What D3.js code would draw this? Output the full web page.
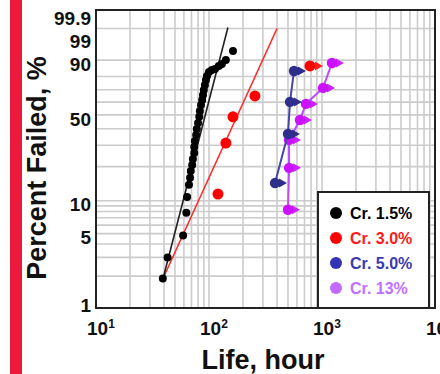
<!DOCTYPE html>
<html>
<head>
<meta charset="utf-8">
<script src="https://cdn.jsdelivr.net/npm/d3@7/dist/d3.min.js"></script>
<style>
  body { margin: 0; background: #fff; }
  svg { display: block; font-family: "Liberation Sans", Arial, sans-serif; font-weight: bold; }
  .grid line { stroke: #cccccc; stroke-width: 1.6; }
</style>
</head>
<body>
<div id="chart"></div>
<script>
// life (hours) and percent failed
const cr15 = [
  [39, 1.9], [43, 3.0], [59, 4.8], [63, 7.8], [64, 10.8], [66.5, 13.9], [68, 16],
  [69, 18.3], [71, 20.6], [72, 23.2], [74, 26], [74, 29], [75, 32.4], [77, 36],
  [78, 39.9], [80, 44], [82, 48.5], [83, 53], [85, 57.8], [87, 61.8], [88.5, 65.8],
  [90, 69.8], [92, 73.7], [94, 77.5], [96, 80.4], [100, 83.1], [106, 84.4],
  [113, 85], [122, 86.8], [130, 88], [141, 90.1], [163, 94]
];
const cr15Fit = [[39.2, 1.9], [147, 99.1]];
const cr30 = [[120, 11.5], [141, 31.2], [163, 48.5], [255, 65], [783, 86.8]];
const cr30Fit = [[39.2, 1.9], [400, 99]];
const cr30Suspended = [[783, 86.8]];
const cr50 = [[384, 14.4], [500, 36.6], [521, 60.2], [565, 83.7]];
const cr13 = [[500, 8.3], [511, 19.5], [511, 33], [638, 46.2], [721, 58.6], [1021, 71.4], [1225, 88.5]];

const lifeTicks = [10, 100, 1000, 10000];
const pctTicks = [99.9, 99, 90, 50, 10, 5, 1];
const pctGrid = [1, 2, 3, 4, 5, 6, 7, 8, 9, 10, 20, 30, 40, 50, 60, 70, 80, 90, 99];
const legendLabels = ["Cr. 1.5%", "Cr. 3.0%", "Cr. 5.0%", "Cr. 13%"];
const legendColors = ["#000000", "#ff0000", "#3434b8", "#c46bff"];
const legendText = ["#000000", "#ff1a1a", "#3a3ab4", "#c070ff"];

const width = 440, height = 374;
const margin = { top: 10, right: 5, bottom: 66, left: 96 };
const plotR = width - margin.right, plotB = height - margin.bottom;

const weibull = (p) => Math.log(-Math.log(1 - p / 100));

const x = d3.scaleLog().domain([10, 10000]).range([margin.left, plotR]);
const yW = d3.scaleLinear().domain([weibull(1), weibull(99.9)]).range([plotB, margin.top]);
const y = (p) => yW(weibull(p));

const svg = d3.select("#chart").append("svg")
  .attr("width", width).attr("height", height);

svg.append("rect").attr("x", 10).attr("y", 0).attr("width", 12).attr("height", height)
  .attr("fill", "#ec1a3c");

const grid = svg.append("g").attr("class", "grid");
grid.selectAll(".gx").data(x.ticks()).join("line")
  .attr("x1", (d) => x(d)).attr("x2", (d) => x(d))
  .attr("y1", margin.top).attr("y2", plotB);
grid.selectAll(".gy").data(pctGrid).join("line")
  .attr("x1", margin.left).attr("x2", plotR)
  .attr("y1", (d) => y(d)).attr("y2", (d) => y(d));

const line = d3.line().x((d) => x(d[0])).y((d) => y(d[1]));

svg.append("path").datum(cr30Fit).attr("d", line)
  .attr("fill", "none").attr("stroke", "#ff2a2a").attr("stroke-width", 1.6);
svg.append("path").datum(cr15Fit).attr("d", line)
  .attr("fill", "none").attr("stroke", "#222").attr("stroke-width", 1.6);

function arrows(data, color, gap) {
  const g = svg.append("g").attr("fill", color).attr("stroke", color);
  g.selectAll("line").data(data).join("line")
    .attr("x1", (d) => x(d[0])).attr("x2", (d) => x(d[0]) + gap)
    .attr("y1", (d) => y(d[1])).attr("y2", (d) => y(d[1]))
    .attr("stroke-width", 1.5);
  g.selectAll("path").data(data).join("path")
    .attr("stroke", "none")
    .attr("d", (d) => {
      const cx = x(d[0]) + gap, cy = y(d[1]);
      return `M${cx},${cy - 4.5}L${cx + 8},${cy}L${cx},${cy + 4.5}Z`;
    });
}

function series(data, color, r, lineColor) {
  if (lineColor) {
    svg.append("path").datum(data).attr("d", line)
      .attr("fill", "none").attr("stroke", lineColor).attr("stroke-width", 2);
  }
  svg.append("g").selectAll("circle").data(data).join("circle")
    .attr("cx", (d) => x(d[0])).attr("cy", (d) => y(d[1]))
    .attr("r", r).attr("fill", color);
}

// purple under blue, as in the picture
arrows(cr13, "#cc22ff", 4);
series(cr13, "#cc11ff", 5.2, "#b94cff");
arrows(cr50, "#2e2e8c", 4);
series(cr50, "#2e2e8c", 5.2, "#4646a6");
arrows(cr30Suspended, "#ff2020", 5);
series(cr30, "#ff0000", 5.5);
series(cr15, "#000000", 4);

// frame
svg.append("rect").attr("x", margin.left).attr("y", margin.top)
  .attr("width", plotR - margin.left).attr("height", plotB - margin.top)
  .attr("fill", "none").attr("stroke", "#222").attr("stroke-width", 2);

// y tick labels, nudged down so they don't collide
let prev = -Infinity;
const yLabels = pctTicks.map((p) => {
  let cy = Math.max(y(p) + 4, margin.top + 8, prev + 23);
  cy = Math.min(cy, plotB - 3);
  prev = cy;
  return { p, cy };
});
svg.append("g").selectAll("text").data(yLabels).join("text")
  .attr("x", 91).attr("y", (d) => d.cy).attr("dy", "0.35em")
  .attr("text-anchor", "end").attr("font-size", 19).attr("fill", "#111")
  .text((d) => d.p);

// x tick labels 10^n
const xt = svg.append("g").selectAll("text").data(lifeTicks).join("text")
  .attr("x", (d) => x(d) - 9).attr("y", 335)
  .attr("font-size", 19).attr("fill", "#111");
xt.append("tspan").text("10");
xt.append("tspan").attr("dy", -7).attr("font-size", 12)
  .text((d) => Math.round(Math.log10(d)));

svg.append("text").attr("x", 263).attr("y", 369)
  .attr("text-anchor", "middle").attr("font-size", 27).attr("fill", "#111")
  .text("Life, hour");
svg.append("text").attr("transform", "translate(46,168) rotate(-90)")
  .attr("text-anchor", "middle").attr("font-size", 27).attr("fill", "#111")
  .text("Percent Failed, %");

// legend
const lg = svg.append("g");
lg.append("rect").attr("x", 318).attr("y", 192).attr("width", 111).attr("height", 116)
  .attr("fill", "#fff").attr("stroke", "#222").attr("stroke-width", 2);
const rows = lg.selectAll(".row").data(legendLabels).join("g")
  .attr("transform", (d, i) => `translate(336,${213 + i * 25})`);
rows.append("circle").attr("r", 6).attr("fill", (d, i) => legendColors[i]);
rows.append("text").attr("x", 14).attr("dy", "0.36em").attr("font-size", 16)
  .attr("fill", (d, i) => legendText[i]).text((d) => d);
</script>
</body>
</html>
